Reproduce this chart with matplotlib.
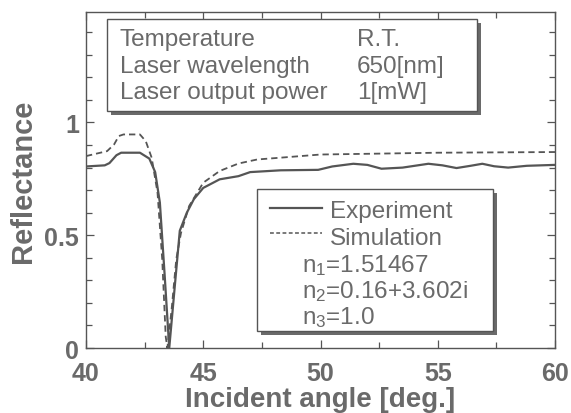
import numpy as np
import matplotlib
matplotlib.use('Agg')
import matplotlib.pyplot as plt
from matplotlib.patches import Rectangle
from matplotlib.ticker import MultipleLocator

plt.rcParams['font.family'] = ['Liberation Sans', 'DejaVu Sans']
plt.rcParams['mathtext.default'] = 'regular'

exp_angle = [40.0, 40.8, 41.0, 41.3, 41.5, 42.3, 42.7, 42.95, 43.15, 43.35, 43.55,
             43.8, 44.0, 44.3, 44.6, 45.0, 45.7, 46.5, 47.0, 48.3, 49.9, 50.5,
             51.4, 52.0, 52.6, 53.5, 54.6, 55.2, 55.8, 56.4, 56.9, 57.4, 58.0,
             58.8, 60.0]
exp_refl = [0.805, 0.81, 0.82, 0.855, 0.866, 0.866, 0.84, 0.78, 0.645, 0.33, 0.0,
            0.29, 0.52, 0.6, 0.66, 0.71, 0.748, 0.762, 0.78, 0.788, 0.79, 0.805,
            0.817, 0.812, 0.795, 0.80, 0.817, 0.81, 0.798, 0.808, 0.817, 0.806, 0.80,
            0.808, 0.812]

# simulation
sim_angle = [40.0, 40.9, 41.2, 41.4, 41.6, 42.3, 42.55, 42.8, 43.05, 43.25, 43.4,
             43.47, 43.65, 43.85, 44.05, 44.4, 45.0, 45.7, 46.5, 47.3, 48.3, 50.0,
             55.0, 60.0]
sim_refl = [0.851, 0.873, 0.903, 0.94, 0.947, 0.947, 0.917, 0.844, 0.689, 0.394, 0.05,
            0.0, 0.17, 0.394, 0.51, 0.63, 0.733, 0.785, 0.818, 0.836, 0.844, 0.858,
            0.866, 0.869]

cond_names = ['Temperature', 'Laser wavelength', 'Laser output power']
cond_values = ['R.T.', '650[nm]', '1[mW]']
index_labels = ['n$_1$=1.51467', 'n$_2$=0.16+3.602i', 'n$_3$=1.0']

txt = '#6a6a6a'
ink = '#555555'

fig = plt.figure(figsize=(5.71, 4.14), dpi=100)
ax = fig.add_axes([0.1506, 0.157, 0.8214, 0.8116])

ax.plot(exp_angle, exp_refl, color=ink, lw=1.6, label='Experiment')
ax.plot(sim_angle, sim_refl, color=ink, lw=1.3, ls=(0, (3.5, 2.2)), label='Simulation')

ax.set_xlim(40, 60)
ax.set_ylim(0, 1.49)
ax.xaxis.set_major_locator(MultipleLocator(5))
ax.xaxis.set_minor_locator(MultipleLocator(2.5))
ax.yaxis.set_major_locator(MultipleLocator(0.5))
ax.yaxis.set_minor_locator(MultipleLocator(0.1))
ax.tick_params(which='both', direction='in', top=True, right=True, colors=ink,
               labelcolor=txt, labelsize=18, width=0.9)
ax.tick_params(which='major', length=6)
ax.tick_params(which='minor', length=4)
ax.tick_params(axis='x', pad=9)
ax.tick_params(axis='y', pad=5)
ax.set_yticks([0, 0.5, 1])
ax.set_yticklabels(['0', '0.5', '1'])
for lab in ax.get_xticklabels() + ax.get_yticklabels():
    lab.set_fontweight('bold')
for s in ax.spines.values():
    s.set_color(ink)
    s.set_linewidth(1.0)

ax.set_xlabel('Incident angle [deg.]', fontsize=20, fontweight='bold', color=txt, labelpad=1)
ax.set_ylabel('Reflectance', fontsize=21, fontweight='bold', color=txt, labelpad=5)


def boxed(x0, y0, x1, y1):
    # white box with a grey drop shadow, pixel coords from the top-left
    W, H = 571.0, 414.0
    fig.patches.append(Rectangle(((x0 + 4) / W, 1 - (y1 + 4) / H), (x1 - x0) / W, (y1 - y0) / H,
                                 transform=fig.transFigure, facecolor='#6a6a6a',
                                 edgecolor='none', zorder=5))
    fig.patches.append(Rectangle((x0 / W, 1 - y1 / H), (x1 - x0) / W, (y1 - y0) / H,
                                 transform=fig.transFigure, facecolor='white',
                                 edgecolor=ink, lw=1.0, zorder=6))


def ftext(x, y, s, **kw):
    fig.text(x / 571.0, 1 - y / 414.0, s, color=txt, fontsize=17.5, zorder=7,
             va='baseline', **kw)


boxed(107, 20, 477, 112)
for i in range(3):
    ftext(120, 46 + 26.5 * i, cond_names[i])
    ftext(357, 46 + 26.5 * i, cond_values[i])

boxed(257, 190, 493, 332)
ftext(330, 218, 'Experiment')
ftext(330, 245, 'Simulation')
fig.lines.append(plt.Line2D([270 / 571, 322 / 571], [1 - 209 / 414, 1 - 209 / 414],
                            transform=fig.transFigure, color=ink, lw=1.6, zorder=7))
fig.lines.append(plt.Line2D([270 / 571, 322 / 571], [1 - 234 / 414, 1 - 234 / 414],
                            transform=fig.transFigure, color=ink, lw=1.1,
                            ls=(0, (2.5, 1.6)), zorder=7))
for i in range(3):
    ftext(302, 272 + 26 * i, index_labels[i])

fig.savefig('out.png', dpi=100)
